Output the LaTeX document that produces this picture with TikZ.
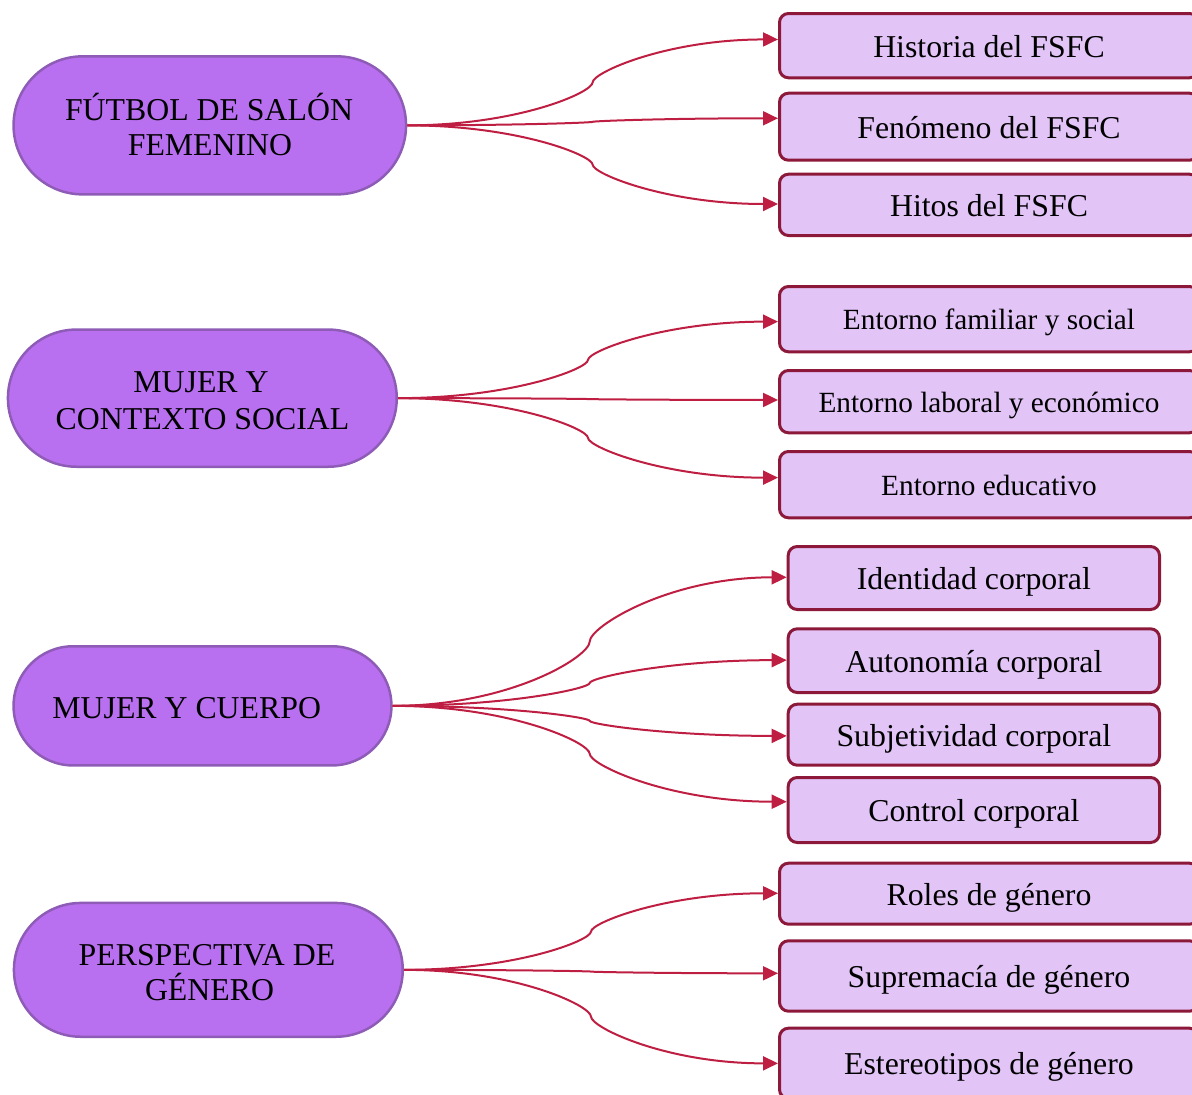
\documentclass[tikz,border=0pt]{standalone}
\usepackage{fontspec}
\setmainfont{Liberation Serif}
\usetikzlibrary{arrows.meta,shapes.misc,calc}
\definecolor{lfill}{RGB}{185,112,240}
\definecolor{lborder}{RGB}{142,92,182}
\definecolor{rfill}{RGB}{226,196,247}
\definecolor{rborder}{RGB}{140,24,58}
\definecolor{connc}{RGB}{190,30,66}
\tikzset{
  lnode/.style={rounded rectangle, draw=lborder, fill=lfill, line width=2.5pt, inner sep=0pt},
  ltxt/.style={anchor=base, inner sep=0pt, font=\fontsize{31.8}{38}\selectfont},
  rbox/.style={rectangle, rounded corners=9pt, draw=rborder, fill=rfill, line width=3pt,
    inner sep=0pt, text height=23pt, text depth=0pt, font=\fontsize{31.8}{38}\selectfont},
  rboxtwo/.style={rbox, text height=21pt, font=\fontsize{29.3}{35}\selectfont},
  arr/.style={draw=connc, line width=2pt, -{Triangle[length=15pt,width=14pt]}}
}
\newcommand\myconn[3]{%
  \coordinate (e) at ([yshift=#3]#2.west);
  \coordinate (m) at ($(#1.east)!0.5!(e)$);
  \draw[arr] (#1.east) .. controls ($(#1.east)!0.6!(#1.east -| m)$) and ($(m)!0.23!(m |- #1.east)$) .. (m)
    .. controls ($(m)!0.23!(m |- e)$) and ($(e)!0.6!(e -| m)$) .. ([yshift=#3]#2.west);%
}
\begin{document}
\begin{tikzpicture}[x=1pt,y=-1pt]
\useasboundingbox (0,0) rectangle (1192,1095);
\clip (0,0) rectangle (1192,1095);

% left nodes
\node[lnode, minimum width=392.5pt, minimum height=138pt] (n1) at (209.8,125.35) {};
\node[ltxt] (n1a) at (209,120) {FÚTBOL DE SALÓN};
\node[ltxt] (n1b) at (210,155) {FEMENINO};

\node[lnode, minimum width=388.8pt, minimum height=137.2pt] (n2) at (202.35,398.15) {};
\node[ltxt] (n2a) at (201,392.7) {MUJER Y};
\node[ltxt] (n2b) at (202.5,429.3) {CONTEXTO SOCIAL};

\node[lnode, minimum width=377.9pt, minimum height=119.2pt] (n3) at (202.5,705.85) {};
\node[ltxt] (n3a) at (186.7,718.3) {MUJER Y CUERPO};

\node[lnode, minimum width=388.8pt, minimum height=133.8pt] (n4) at (208.35,969.85) {};
\node[ltxt] (n4a) at (207,965) {PERSPECTIVA DE};
\node[ltxt] (n4b) at (209.5,1000) {GÉNERO};

% group 1
\node[rbox, minimum width=419pt, minimum height=64.3pt] (b11) at (989,45.65) {Historia del FSFC};
\node[rbox, minimum width=419pt, minimum height=67pt] (b12) at (989,126.7) {Fenómeno del FSFC};
\node[rbox, minimum width=419pt, minimum height=61.3pt] (b13) at (989,204.85) {Hitos del FSFC};

% group 2
\node[rboxtwo, minimum width=419pt, minimum height=65.3pt] (b21) at (989,319.15) {Entorno familiar y social};
\node[rboxtwo, minimum width=419pt, minimum height=62.3pt] (b22) at (989,401.65) {Entorno laboral y económico};
\node[rboxtwo, minimum width=419pt, minimum height=66.3pt] (b23) at (989,484.65) {Entorno educativo};

% group 3
\node[rbox, minimum width=371.3pt, minimum height=63pt] (b31) at (973.85,578) {Identidad corporal};
\node[rbox, minimum width=371.3pt, minimum height=63.7pt] (b32) at (973.85,660.65) {Autonomía corporal};
\node[rbox, minimum width=371.3pt, minimum height=61pt] (b33) at (973.85,734.7) {Subjetividad corporal};
\node[rbox, minimum width=371.3pt, minimum height=65pt] (b34) at (973.85,810) {Control corporal};

% group 4
\node[rbox, minimum width=419pt, minimum height=61pt] (b41) at (989,893.7) {Roles de género};
\node[rbox, minimum width=419pt, minimum height=70.4pt] (b42) at (989,976) {Supremacía de género};
\node[rbox, minimum width=419pt, minimum height=70.3pt] (b43) at (989,1063.35) {Estereotipos de género};

% connectors
\myconn{n1}{b11}{6.2pt}
\myconn{n1}{b12}{8.4pt}
\myconn{n1}{b13}{0.85pt}

\myconn{n2}{b21}{-2.5pt}
\myconn{n2}{b22}{1.7pt}
\myconn{n2}{b23}{7pt}

\myconn{n3}{b31}{0.7pt}
\myconn{n3}{b32}{0.5pt}
\myconn{n3}{b33}{-1.2pt}
\myconn{n3}{b34}{8.3pt}

\myconn{n4}{b41}{0.4pt}
\myconn{n4}{b42}{2.7pt}
\myconn{n4}{b43}{0pt}
\end{tikzpicture}
\end{document}
